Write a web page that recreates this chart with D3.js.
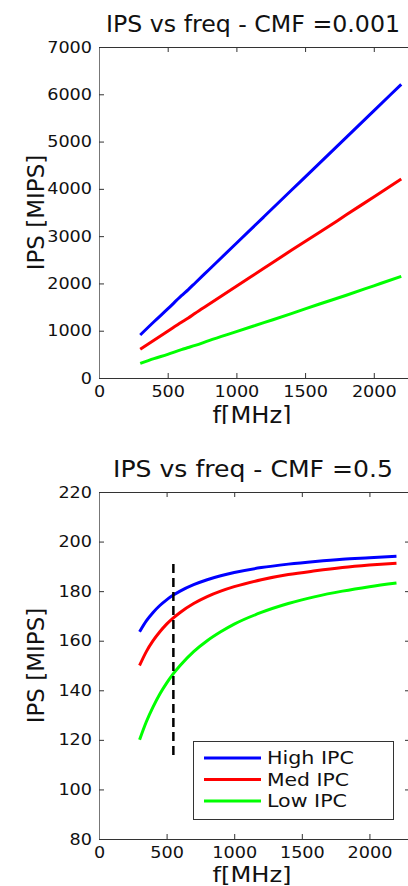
<!DOCTYPE html>
<html>
<head>
<meta charset="utf-8">
<script src="https://cdn.jsdelivr.net/npm/d3@7"></script>
<style>
  body { margin: 0; background: #fff; }
  svg { display: block; font-family: "DejaVu Sans", sans-serif; }
</style>
</head>
<body>
<svg id="fig" width="408" height="886"></svg>
<script>
// ---- data ----
const seriesNames = ["High IPC", "Med IPC", "Low IPC"];
const seriesColors = ["#0000ff", "#ff0000", "#00ff00"];

// top panel, CMF = 0.001
const freqTop = [300, 400, 500, 600, 650, 700, 800, 1000, 1200, 1400, 1600, 1800, 2000, 2200];
const highTop = [910, 1190, 1460, 1740, 1870, 2010, 2290, 2850, 3410, 3970, 4530, 5090, 5650, 6210];
const medTop  = [610, 800, 990, 1180, 1270, 1370, 1560, 1940, 2320, 2700, 3070, 3450, 3830, 4210];
const lowTop  = [310, 410, 500, 600, 645, 690, 790, 980, 1170, 1360, 1560, 1750, 1950, 2150];

// bottom panel, CMF = 0.5
const freqBot = [300, 350, 400, 450, 500, 550, 600, 700, 800, 900, 1000, 1200, 1400, 1600, 1800, 2000, 2200];
const highBot = [163.6, 168, 171.4, 174.2, 176.5, 178.4, 180, 182.6, 184.6, 186.2, 187.5, 189.5, 190.9, 192, 192.9, 193.5, 194.1];
const medBot  = [150, 155.6, 160, 163.6, 166.7, 169.2, 171.4, 175, 177.8, 180, 181.8, 184.6, 186.7, 188.2, 189.5, 190.5, 191.3];
const lowBot  = [120, 127.3, 133.3, 138.5, 142.9, 146.7, 150, 155.6, 160, 163.6, 166.7, 171.4, 175, 177.8, 180, 181.8, 183.3];

// dashed marker in the bottom panel
const markerFreq = 550;
const markerRange = [112, 191];

const xTicks = [0, 500, 1000, 1500, 2000];
const yTicksTop = [0, 1000, 2000, 3000, 4000, 5000, 6000, 7000];
const yTicksBot = [80, 100, 120, 140, 160, 180, 200, 220];

const svg = d3.select("#fig");

function zipSeries(freq, vals) {
    return vals.map((v, i) => ({ f: freq[i], v: v }));
}

function makeChart(g, cfg) {
    let x = d3.scaleLinear(cfg.xDomain, [cfg.left, cfg.right]);
    let y = d3.scaleLinear(cfg.yDomain, [cfg.bottom, cfg.top]);
    let fmt = d3.format("d");

    // box: top and right sides, ticks only
    g.append("g")
        .attr("transform", `translate(0,${cfg.top})`)
        .call(d3.axisTop(x).tickValues(xTicks).tickSizeInner(-5).tickSizeOuter(0).tickFormat(""))
        .call(a => a.selectAll("line,path").attr("stroke", "#333"));
    g.append("g")
        .attr("transform", `translate(${cfg.right},0)`)
        .call(d3.axisRight(y).tickValues(cfg.yTicks).tickSizeInner(-5).tickSizeOuter(0).tickFormat(""))
        .call(a => a.selectAll("line,path").attr("stroke", "#333"));

    // bottom axis
    let xa = g.append("g")
        .attr("transform", `translate(0,${cfg.bottom})`)
        .call(d3.axisBottom(x).tickValues(xTicks).tickFormat(fmt).tickSizeInner(-5).tickSizeOuter(0).tickPadding(8));
    // left axis
    let ya = g.append("g")
        .attr("transform", `translate(${cfg.left},0)`)
        .call(d3.axisLeft(y).tickValues(cfg.yTicks).tickFormat(fmt).tickSizeInner(-5).tickSizeOuter(0).tickPadding(7));

    [xa, ya].forEach(a => {
        a.select(".domain").attr("stroke", "#333");
        a.selectAll(".tick line").attr("stroke", "#333");
        a.selectAll("text")
            .attr("font-family", "DejaVu Sans")
            .attr("font-size", 16)
            .attr("fill", "#111")
            .attr("textLength", function() { return this.textContent.length * 11.2; })
            .attr("lengthAdjust", "spacingAndGlyphs");
    });
    ya.select(".domain").attr("stroke", "#777");

    // series lines
    let line = d3.line().x(d => x(d.f)).y(d => y(d.v)).curve(d3.curveMonotoneX);
    cfg.series.forEach((s, i) => {
        g.append("path")
            .datum(s)
            .attr("fill", "none")
            .attr("stroke", seriesColors[i])
            .attr("stroke-width", 3)
            .attr("stroke-linejoin", "round")
            .attr("d", line);
    });

    // labels
    g.append("text")
        .attr("x", 253).attr("y", cfg.titleY)
        .attr("text-anchor", "middle")
        .attr("font-size", 23.5)
        .attr("textLength", cfg.titleLen)
        .attr("lengthAdjust", "spacingAndGlyphs")
        .attr("fill", "#111")
        .text(cfg.title);
    g.append("text")
        .attr("x", 252).attr("y", cfg.bottom + cfg.xLabelOff)
        .attr("text-anchor", "middle")
        .attr("font-size", cfg.xLabelSize)
        .attr("textLength", 79)
        .attr("lengthAdjust", "spacingAndGlyphs")
        .attr("fill", "#111")
        .text("f[MHz]");
    g.append("text")
        .attr("transform", `translate(44,${(cfg.top + cfg.bottom) / 2}) rotate(-90)`)
        .attr("text-anchor", "middle")
        .attr("font-size", 23)
        .attr("fill", "#111")
        .text("IPS [MIPS]");

    return { x: x, y: y };
}

// ---- top panel (image clipped just under the x label) ----
svg.append("clipPath").attr("id", "clipTop")
    .append("rect").attr("x", 0).attr("y", 0).attr("width", 408).attr("height", 424);
let gTop = svg.append("g").attr("clip-path", "url(#clipTop)");
makeChart(gTop, {
    left: 99, right: 415, top: 47, bottom: 378,
    xDomain: [0, 2300], yDomain: [0, 7000], yTicks: yTicksTop,
    title: "IPS vs freq - CMF =0.001", titleY: 32, titleLen: 294,
    xLabelOff: 45, xLabelSize: 23.5,
    series: [zipSeries(freqTop, highTop), zipSeries(freqTop, medTop), zipSeries(freqTop, lowTop)]
});

// ---- bottom panel ----
let gBot = svg.append("g");
let sc = makeChart(gBot, {
    left: 99, right: 410, top: 492, bottom: 839,
    xDomain: [0, 2300], yDomain: [80, 220], yTicks: yTicksBot,
    title: "IPS vs freq - CMF =0.5", titleY: 477, titleLen: 280,
    xLabelOff: 42.5, xLabelSize: 21,
    series: [zipSeries(freqBot, highBot), zipSeries(freqBot, medBot), zipSeries(freqBot, lowBot)]
});

gBot.append("line")
    .attr("x1", sc.x(markerFreq)).attr("x2", sc.x(markerFreq))
    .attr("y1", sc.y(markerRange[1])).attr("y2", sc.y(markerRange[0]))
    .attr("stroke", "#000")
    .attr("stroke-width", 2.5)
    .attr("stroke-dasharray", "9,5");

// legend
let legend = gBot.append("g");
legend.append("rect")
    .attr("x", 193.5).attr("y", 741.5).attr("width", 200).attr("height", 78)
    .attr("fill", "#fff").attr("stroke", "#333").attr("stroke-width", 1);
const legendWidths = [87, 82, 80];
seriesNames.forEach((name, i) => {
    let cy = 758 + i * 21.5;
    legend.append("line")
        .attr("x1", 204).attr("x2", 261).attr("y1", cy).attr("y2", cy)
        .attr("stroke", seriesColors[i]).attr("stroke-width", 3);
    legend.append("text")
        .attr("x", 267).attr("y", cy + 6.4)
        .attr("font-size", 17.4)
        .attr("fill", "#111")
        .attr("textLength", legendWidths[i])
        .attr("lengthAdjust", "spacingAndGlyphs")
        .text(name);
});
</script>
</body>
</html>
